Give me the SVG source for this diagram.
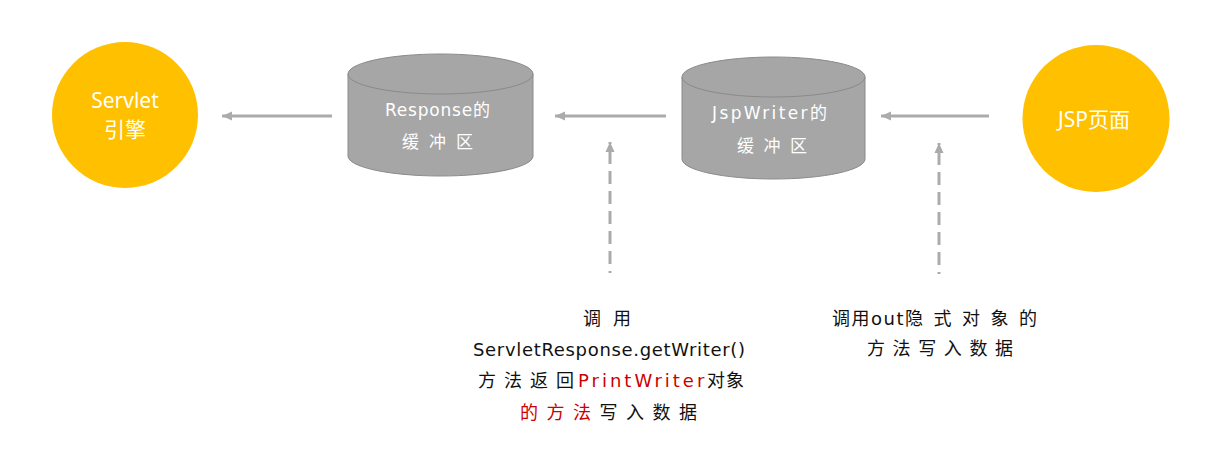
<svg xmlns="http://www.w3.org/2000/svg" width="1218" height="449" viewBox="0 0 1218 449">
<style>
.circle{fill:#FFC000;}
.ctext{fill:#FFFFFF;font-family:"Noto Sans","Noto Sans CJK SC",sans-serif;font-size:21px;text-anchor:middle;}
.cyl{fill:#A6A6A6;stroke:#8A8A8A;stroke-width:1;}
.cyltext{fill:#FFFFFF;font-family:"DejaVu Sans","Noto Sans CJK SC",sans-serif;font-size:17px;text-anchor:middle;}
.conn{stroke:#ABABAB;stroke-width:3;fill:none;}
.dash{stroke-dasharray:13 7;stroke-dashoffset:11;}
.label{fill:#111111;font-family:"DejaVu Sans","Noto Sans CJK SC",sans-serif;font-size:18px;}
.red{fill:#CC0000;}
</style>
<defs>
<marker id="arrow" markerUnits="userSpaceOnUse" markerWidth="12" markerHeight="12" viewBox="0 0 12 12" refX="11" refY="6" orient="auto">
<path d="M1 1.5 L11 6 L1 10.5 Z" fill="#ABABAB"/>
</marker>
</defs>
<g id="servlet">
<circle class="circle" cx="125" cy="115" r="73"/>
<text class="ctext" x="125" y="108">Servlet</text>
<text class="ctext" x="125" y="137">引擎</text>
</g>
<g id="response-buffer">
<path class="cyl" d="M348 74 L348 156 A92.5 20 0 0 0 533 156 L533 74 Z"/>
<ellipse class="cyl" cx="440.5" cy="74" rx="92.5" ry="20"/>
<text class="cyltext" x="437.5" y="116" textLength="105" lengthAdjust="spacing">Response的</text>
<text class="cyltext" x="437.5" y="148" textLength="71" lengthAdjust="spacing">缓冲区</text>
</g>
<g id="jspwriter-buffer">
<path class="cyl" d="M682 77 L682 159 A91.5 20 0 0 0 865 159 L865 77 Z"/>
<ellipse class="cyl" cx="773.5" cy="77" rx="91.5" ry="20"/>
<text class="cyltext" x="769.5" y="119" textLength="115" lengthAdjust="spacing">JspWriter的</text>
<text class="cyltext" x="772" y="152" textLength="70" lengthAdjust="spacing">缓冲区</text>
</g>
<g id="jsp-page">
<circle class="circle" cx="1096" cy="118.5" r="73.5"/>
<text class="ctext" x="1094" y="127">JSP页面</text>
</g>
<g id="connectors">
<line class="conn" x1="332" y1="116" x2="222" y2="116" marker-end="url(#arrow)"/>
<line class="conn" x1="666" y1="116" x2="555" y2="116" marker-end="url(#arrow)"/>
<line class="conn" x1="989" y1="116" x2="881" y2="116" marker-end="url(#arrow)"/>
<line class="conn dash" x1="610" y1="273" x2="610" y2="142" marker-end="url(#arrow)"/>
<line class="conn dash" x1="939" y1="274" x2="939" y2="143" marker-end="url(#arrow)"/>
</g>
<g id="label-left">
<text class="label" x="583" y="325" letter-spacing="12">调用</text>
<text class="label" x="473" y="356" textLength="272" lengthAdjust="spacing">ServletResponse.getWriter()</text>
<text class="label" y="387"><tspan x="478" letter-spacing="8">方法返回</tspan><tspan class="red" x="578" letter-spacing="3">PrintWriter</tspan><tspan x="707" letter-spacing="1">对象</tspan></text>
<text class="label" x="520" y="419" letter-spacing="8.5"><tspan class="red">的方法</tspan>写入数据</text>
</g>
<g id="label-right">
<text class="label" y="325"><tspan x="832" letter-spacing="1.5">调用out</tspan><tspan x="905" letter-spacing="10.5">隐式对象的</tspan></text>
<text class="label" x="867" y="355" letter-spacing="7.6">方法写入数据</text>
</g>
</svg>
